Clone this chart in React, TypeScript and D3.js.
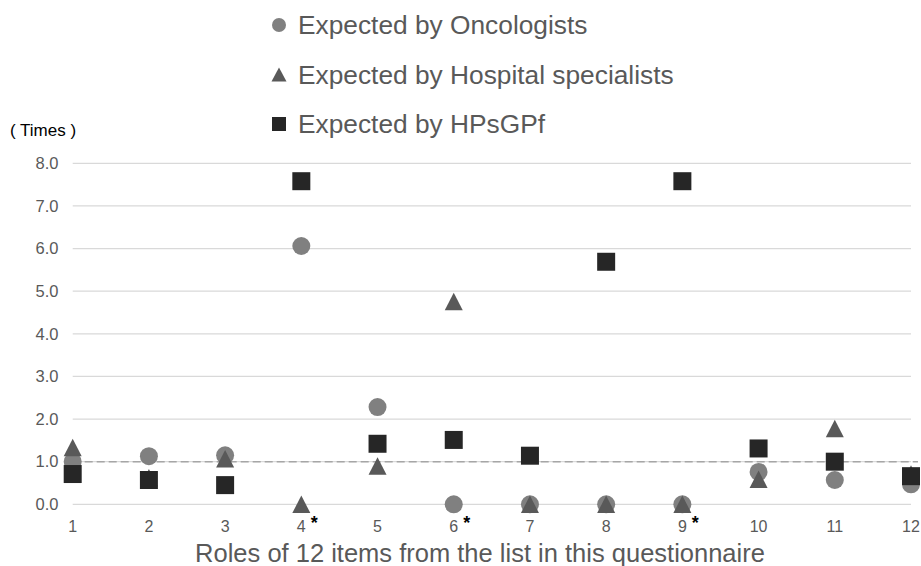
import React from "react";
import * as d3 from "d3";

const items = [1, 2, 3, 4, 5, 6, 7, 8, 9, 10, 11, 12];
const starred = [4, 6, 9];
const oncologists = [1.0, 1.13, 1.15, 6.06, 2.28, 0, 0, 0, 0, 0.76, 0.57, 0.47];
const hospital = [1.33, 0.62, 1.07, 0, 0.9, 4.76, 0, 0, 0, 0.59, 1.78, 0.71];
const hpsgpf = [0.71, 0.57, 0.45, 7.58, 1.42, 1.51, 1.14, 5.69, 7.58, 1.31, 1.0, 0.66];
const yTicks = [0, 1, 2, 3, 4, 5, 6, 7, 8];
const legendLabels = ["Expected by Oncologists", "Expected by Hospital specialists", "Expected by HPsGPf"];

const W = 921;
const H = 566;
const FONT = "'Liberation Sans', Arial, sans-serif";

function triPath(w: number, h: number) {
  const p = d3.path();
  p.moveTo(0, -h / 2);
  p.lineTo(w / 2, h / 2);
  p.lineTo(-w / 2, h / 2);
  p.closePath();
  return p.toString();
}

export default function App() {
  const x = d3.scaleLinear().domain([1, 12]).range([72.7, 911]);
  const y = d3.scaleLinear().domain([0, 8]).range([504.3, 163.3]);
  const circle = d3.symbol().type(d3.symbolCircle).size(Math.PI * 9 * 9);
  const tri = triPath(18, 17.5);
  const sq = d3.symbol().type(d3.symbolSquare).size(18 * 18);
  const lCircle = d3.symbol().type(d3.symbolCircle).size(Math.PI * 7 * 7);
  const lTri = triPath(15, 14);
  const lSq = d3.symbol().type(d3.symbolSquare).size(14 * 14);
  const legendMarks = [
    { d: lCircle()!, fill: "#808080" },
    { d: lTri, fill: "#595959" },
    { d: lSq()!, fill: "#262626" },
  ];
  return (
    <svg width={W} height={H} style={{ position: "absolute", left: 0, top: 0, fontFamily: FONT }}>
      <rect width={W} height={H} fill="#fff" />
      {legendLabels.map((lab, i) => (
        <g key={lab} transform={`translate(0, ${25 + i * 49.5})`}>
          <path d={legendMarks[i].d} transform="translate(279, 0)" fill={legendMarks[i].fill} />
          <text x={298} y={0} dy="0.35em" fontSize={26.3} fill="#595959">{lab}</text>
        </g>
      ))}
      <text x={10} y={130} dy="0.35em" fontSize={17} fill="#000">( Times )</text>
      {yTicks.map((t) => (
        <g key={t}>
          <line x1={72.7} x2={911} y1={y(t)} y2={y(t)} stroke="#d9d9d9" strokeWidth={1.3} />
          <text x={58.5} y={y(t)} dy="0.35em" textAnchor="end" fontSize={16.5} fill="#595959">{t.toFixed(1)}</text>
        </g>
      ))}
      {items.map((it) => (
        <g key={it}>
          <text x={x(it)} y={526} dy="0.35em" textAnchor="middle" fontSize={16} fill="#595959">{it}</text>
          {starred.includes(it) && (
            <text x={x(it) + 9.5} y={529} fontSize={18} fontWeight="bold" fill="#000">*</text>
          )}
        </g>
      ))}
      <line x1={72.7} x2={918} y1={y(1)} y2={y(1)} stroke="#a6a6a6" strokeWidth={1.5} strokeDasharray="8,4" />
      {oncologists.map((v, i) => (
        <path key={"o" + i} d={circle()!} transform={`translate(${x(items[i])}, ${y(v)})`} fill="#808080" />
      ))}
      {hospital.map((v, i) => (
        <path key={"h" + i} d={tri} transform={`translate(${x(items[i])}, ${y(v)})`} fill="#595959" />
      ))}
      {hpsgpf.map((v, i) => (
        <path key={"s" + i} d={sq()!} transform={`translate(${x(items[i])}, ${y(v)})`} fill="#262626" />
      ))}
      <text x={480} y={562} textAnchor="middle" fontSize={25.5} fill="#595959">
        Roles of 12 items from the list in this questionnaire
      </text>
    </svg>
  );
}
